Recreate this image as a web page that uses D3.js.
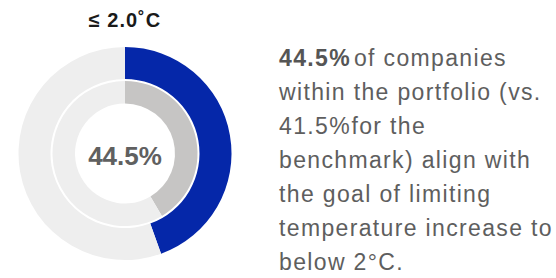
<!DOCTYPE html>
<html>
<head>
<meta charset="utf-8">
<script src="https://cdn.jsdelivr.net/npm/d3@7"></script>
<style>
  body { margin: 0; background: #fff; }
  svg { display: block; font-family: "Liberation Sans", Arial, sans-serif; }
</style>
</head>
<body>
<div id="chart"></div>
<script>
// data
let title = "≤ 2.0˚C"
let portfolioShare = [44.5, 55.5]   // aligned, rest
let benchmarkShare = [41.5, 58.5]
let centerLabel = "44.5%"
let noteBold = "44.5%"
let noteLines = [
  "of companies",
  "within the portfolio (vs.",
  "41.5%|for the",
  "benchmark) align with",
  "the goal of limiting",
  "temperature increase to",
  "below 2°C."
]

let width = 556, height = 278
let cx = 125, cy = 153.5
let lineH = 34

let svg = d3.select("#chart").append("svg")
  .attr("width", width)
  .attr("height", height)

let pie = d3.pie().sort(null).value(function(d) { return d })

let outerArc = d3.arc().innerRadius(74.5).outerRadius(106.5)
let innerArc = d3.arc().innerRadius(50).outerRadius(72.5)

let g = svg.append("g")
  .attr("transform", "translate(" + cx + "," + cy + ")")

g.selectAll(".outer")
  .data(pie(portfolioShare))
  .enter().append("path")
  .attr("class", "outer")
  .attr("d", outerArc)
  .attr("fill", function(d, i) { return i === 0 ? "#0527a9" : "#eeeeee" })

g.selectAll(".inner")
  .data(pie(benchmarkShare))
  .enter().append("path")
  .attr("class", "inner")
  .attr("d", innerArc)
  .attr("fill", function(d, i) { return i === 0 ? "#c6c5c4" : "#eeeeee" })

// centre value
g.append("text")
  .attr("text-anchor", "middle")
  .attr("y", 11.5)
  .style("font-size", "26px")
  .style("font-weight", "bold")
  .style("fill", "#606060")
  .text(centerLabel)

// title
svg.append("text")
  .attr("x", cx)
  .attr("y", 26.5)
  .attr("text-anchor", "middle")
  .style("font-size", "20px")
  .style("font-weight", "bold")
  .style("letter-spacing", "1px")
  .style("fill", "#1a1a1a")
  .text(title)

// side note
let note = svg.append("text")
  .attr("x", 279)
  .attr("y", 66)
  .style("font-size", "23px")
  .style("letter-spacing", "1.35px")
  .style("fill", "#5e5e5e")

noteLines.forEach(function(line, i) {
  let y = 66 + i * lineH
  if (i === 0) {
    note.append("tspan")
      .attr("x", 279)
      .attr("y", y)
      .style("font-weight", "bold")
      .style("fill", "#555")
      .text(noteBold)
    note.append("tspan")
      .attr("dx", 3)
      .text(line)
  } else if (line.indexOf("|") >= 0) {
    let parts = line.split("|")
    note.append("tspan").attr("x", 279).attr("y", y).text(parts[0])
    note.append("tspan").attr("dx", 0.5).text(parts[1])
  } else {
    note.append("tspan")
      .attr("x", 279)
      .attr("y", y)
      .text(line)
  }
})
</script>
</body>
</html>
